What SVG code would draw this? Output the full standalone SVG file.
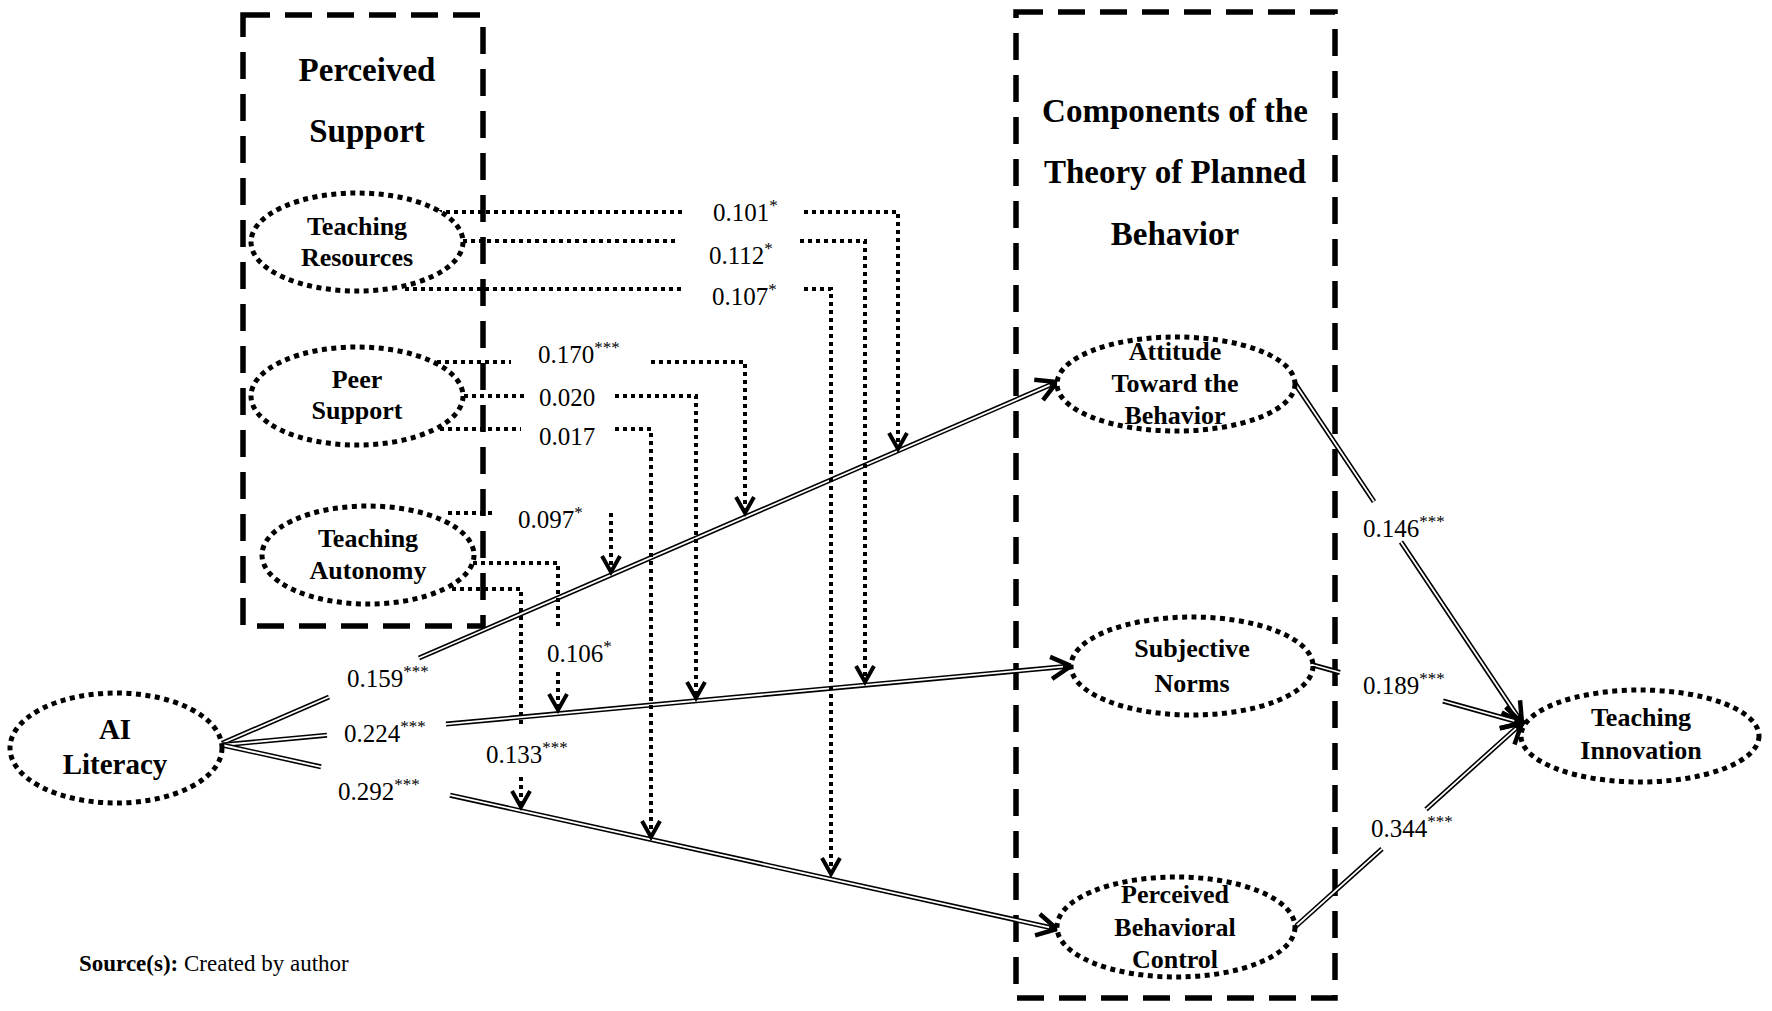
<svg xmlns="http://www.w3.org/2000/svg" width="1772" height="1011" viewBox="0 0 1772 1011">
<defs>
<marker id="arrS" markerUnits="userSpaceOnUse" markerWidth="30" markerHeight="30" viewBox="0 0 30 30" refX="25" refY="15" orient="auto"><path d="M5,4 L25,15 L5,26" fill="none" stroke="#000" stroke-width="4.5"/></marker>
<marker id="arrD" markerUnits="userSpaceOnUse" markerWidth="24" markerHeight="24" viewBox="0 0 24 24" refX="20" refY="12" orient="auto"><path d="M4,3 L20,12 L4,21" fill="none" stroke="#000" stroke-width="4"/></marker>
</defs>
<style>
.box{fill:none;stroke:#000;stroke-width:5.5;stroke-dasharray:27 15}
.node{fill:#fff;stroke:#000;stroke-width:5;stroke-dasharray:5 4.5}
.dot{fill:none;stroke:#000;stroke-width:4;stroke-dasharray:4 4}
.dbl{stroke:#000;stroke-width:5;fill:none}
.inn{stroke:#fff;stroke-width:1.8;fill:none}
text{font-family:"Liberation Serif","Times New Roman",serif;fill:#000}
.t{font-weight:bold;font-size:33px;text-anchor:middle}
.n{font-weight:bold;font-size:26px;text-anchor:middle}
.c{font-size:25px}
.s{font-size:17px}
</style>
<rect width="1772" height="1011" fill="#fff"/>

<g id="box-perceived-support">
<rect class="box" x="243" y="15" width="240" height="611"/>
<text class="t" x="367" y="81">Perceived</text>
<text class="t" x="367" y="142">Support</text>
</g>
<g id="box-tpb">
<rect class="box" x="1016" y="12" width="319" height="986"/>
<text class="t" x="1175" y="122">Components of the</text>
<text class="t" x="1175" y="183">Theory of Planned</text>
<text class="t" x="1175" y="245">Behavior</text>
</g>

<g id="connectors">
<!-- AI Literacy -> Attitude -->
<line class="dbl" x1="218" y1="745" x2="329" y2="697"/>
<line class="inn" x1="218" y1="745" x2="329" y2="697"/>
<line class="dbl" x1="419" y1="658" x2="1057" y2="382" marker-end="url(#arrS)"/>
<line class="inn" x1="419" y1="658" x2="1049.7" y2="385.2"/>
<!-- AI Literacy -> Subjective Norms -->
<line class="dbl" x1="222" y1="745" x2="327" y2="735.2"/>
<line class="inn" x1="222" y1="745" x2="327" y2="735.2"/>
<line class="dbl" x1="446" y1="724.1" x2="1071" y2="666" marker-end="url(#arrS)"/>
<line class="inn" x1="446" y1="724.1" x2="1063" y2="666.7"/>
<!-- AI Literacy -> PBC -->
<line class="dbl" x1="222" y1="745" x2="321" y2="766.8"/>
<line class="inn" x1="222" y1="745" x2="321" y2="766.8"/>
<line class="dbl" x1="450" y1="795.2" x2="1057" y2="929" marker-end="url(#arrS)"/>
<line class="inn" x1="450" y1="795.2" x2="1049.2" y2="927.3"/>
<!-- Attitude -> Teaching Innovation -->
<line class="dbl" x1="1294" y1="382" x2="1374" y2="501.6"/>
<line class="inn" x1="1294" y1="382" x2="1374" y2="501.6"/>
<line class="dbl" x1="1401" y1="542" x2="1522" y2="723" marker-end="url(#arrS)"/>
<line class="inn" x1="1401" y1="542" x2="1517.6" y2="716.3"/>
<!-- Subjective Norms -> Teaching Innovation -->
<line class="dbl" x1="1313" y1="665" x2="1340" y2="672.5"/>
<line class="inn" x1="1313" y1="665" x2="1340" y2="672.5"/>
<line class="dbl" x1="1443" y1="701" x2="1522" y2="723" marker-end="url(#arrS)"/>
<line class="inn" x1="1443" y1="701" x2="1514.3" y2="720.9"/>
<!-- PBC -> Teaching Innovation -->
<line class="dbl" x1="1295" y1="927" x2="1382" y2="848.8"/>
<line class="inn" x1="1295" y1="927" x2="1382" y2="848.8"/>
<line class="dbl" x1="1426" y1="809.3" x2="1522" y2="723" marker-end="url(#arrS)"/>
<line class="inn" x1="1426" y1="809.3" x2="1516" y2="728.3"/>

<!-- Teaching Resources moderations -->
<path class="dot" d="M430,212 H683"/>
<path class="dot" d="M804,212 H898 V449" marker-end="url(#arrD)"/>
<path class="dot" d="M463,241 H678"/>
<path class="dot" d="M800,241 H865 V682" marker-end="url(#arrD)"/>
<path class="dot" d="M405,289 H685"/>
<path class="dot" d="M804,289 H831 V874" marker-end="url(#arrD)"/>
<!-- Peer Support moderations -->
<path class="dot" d="M437,362 H511"/>
<path class="dot" d="M651,362 H745 V513" marker-end="url(#arrD)"/>
<path class="dot" d="M464,396 H525"/>
<path class="dot" d="M615,396 H696 V698" marker-end="url(#arrD)"/>
<path class="dot" d="M440,429 H521"/>
<path class="dot" d="M615,429 H651 V837" marker-end="url(#arrD)"/>
<!-- Teaching Autonomy moderations -->
<path class="dot" d="M448,513 H496"/>
<path class="dot" d="M611,513 V572" marker-end="url(#arrD)"/>
<path class="dot" d="M473,563 H558 V626"/>
<path class="dot" d="M558,672 V710" marker-end="url(#arrD)"/>
<path class="dot" d="M452,589 H521 V728"/>
<path class="dot" d="M521,777 V807" marker-end="url(#arrD)"/>
</g>

<g id="labels">
<text class="c" x="713" y="220.5">0.101<tspan class="s" dy="-10">*</tspan></text>
<text class="c" x="709" y="263.5">0.112<tspan class="s" dy="-10">*</tspan></text>
<text class="c" x="712" y="304.5">0.107<tspan class="s" dy="-10">*</tspan></text>
<text class="c" x="538" y="362.5">0.170<tspan class="s" dy="-10">***</tspan></text>
<text class="c" x="539" y="405.5">0.020</text>
<text class="c" x="539" y="444.5">0.017</text>
<text class="c" x="518" y="527.5">0.097<tspan class="s" dy="-10">*</tspan></text>
<text class="c" x="547" y="661.5">0.106<tspan class="s" dy="-10">*</tspan></text>
<text class="c" x="486" y="762.5">0.133<tspan class="s" dy="-10">***</tspan></text>
<text class="c" x="347" y="686.5">0.159<tspan class="s" dy="-10">***</tspan></text>
<text class="c" x="344" y="741.5">0.224<tspan class="s" dy="-10">***</tspan></text>
<text class="c" x="338" y="799.5">0.292<tspan class="s" dy="-10">***</tspan></text>
<text class="c" x="1363" y="536.5">0.146<tspan class="s" dy="-10">***</tspan></text>
<text class="c" x="1363" y="693.5">0.189<tspan class="s" dy="-10">***</tspan></text>
<text class="c" x="1371" y="836.5">0.344<tspan class="s" dy="-10">***</tspan></text>
</g>

<g id="node-teaching-resources">
<ellipse class="node" cx="357" cy="242" rx="106" ry="49"/>
<text class="n" x="357" y="235">Teaching</text>
<text class="n" x="357" y="266">Resources</text>
</g>
<g id="node-peer-support">
<ellipse class="node" cx="357" cy="396" rx="106" ry="49"/>
<text class="n" x="357" y="388">Peer</text>
<text class="n" x="357" y="419">Support</text>
</g>
<g id="node-teaching-autonomy">
<ellipse class="node" cx="368" cy="555" rx="106" ry="49"/>
<text class="n" x="368" y="547">Teaching</text>
<text class="n" x="368" y="579">Autonomy</text>
</g>
<g id="node-ai-literacy">
<ellipse class="node" cx="116" cy="748" rx="106" ry="55"/>
<text class="n" x="115" y="739" style="font-size:29px">AI</text>
<text class="n" x="115" y="774" style="font-size:29px">Literacy</text>
</g>
<g id="node-attitude">
<ellipse class="node" cx="1176" cy="384" rx="119" ry="47"/>
<text class="n" x="1175" y="360">Attitude</text>
<text class="n" x="1175" y="392">Toward the</text>
<text class="n" x="1175" y="424">Behavior</text>
</g>
<g id="node-subjective-norms">
<ellipse class="node" cx="1192" cy="666" rx="121" ry="49"/>
<text class="n" x="1192" y="657">Subjective</text>
<text class="n" x="1192" y="692">Norms</text>
</g>
<g id="node-pbc">
<ellipse class="node" cx="1176" cy="927" rx="119" ry="50"/>
<text class="n" x="1175" y="903">Perceived</text>
<text class="n" x="1175" y="936">Behavioral</text>
<text class="n" x="1175" y="968">Control</text>
</g>
<g id="node-teaching-innovation">
<ellipse class="node" cx="1640" cy="736" rx="119" ry="46"/>
<text class="n" x="1641" y="726">Teaching</text>
<text class="n" x="1641" y="759">Innovation</text>
</g>

<text x="79" y="971" style="font-size:23px"><tspan font-weight="bold">Source(s):</tspan> Created by author</text>
</svg>
